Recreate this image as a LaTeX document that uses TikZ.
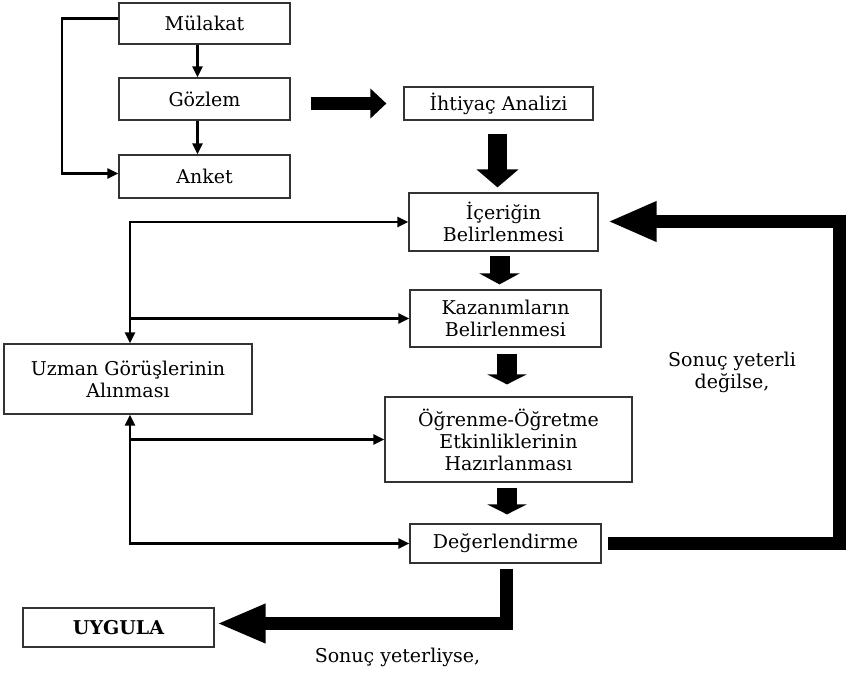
\documentclass[tikz,border=0pt]{standalone}
\usepackage{fontspec}
\setmainfont{DejaVu Serif}
\usetikzlibrary{arrows.meta,calc}
\begin{document}
\begin{tikzpicture}[x=1pt,y=-1pt,
  txt/.style={align=center,inner sep=0pt,font=\fontsize{19}{22}\selectfont},
  box/.style={txt,draw=black!80,line width=1.2pt},
  conn/.style={line width=2.2pt,-{Triangle[width=10pt,length=11pt]}},
  conn2/.style={line width=2.2pt,{Triangle[width=10pt,length=11pt]}-{Triangle[width=10pt,length=11pt]}},
  fat/.style={line join=miter,line cap=butt}
]
\useasboundingbox (0,0) rectangle (846,674);

\node[box,minimum width=171pt,minimum height=41pt] (mul) at (204.5,23.5) {Mülakat};
\node[box,minimum width=171pt,minimum height=42pt] (goz) at (204.5,99) {Gözlem};
\node[box,minimum width=171pt,minimum height=43pt] (ank) at (204.5,176.5) {Anket};
\node[box,minimum width=189pt,minimum height=33pt] (iht) at (498.5,103.5) {İhtiyaç Analizi};
\node[box,minimum width=189pt,minimum height=58pt] (ice) at (503.5,222) {İçeriğin\\Belirlenmesi};
\node[box,minimum width=191pt,minimum height=57pt] (kaz) at (505.5,318.5) {Kazanımların\\Belirlenmesi};
\node[box,minimum width=247pt,minimum height=85pt] (ogr) at (508.5,439.5) {Öğrenme-Öğretme\\Etkinliklerinin\\Hazırlanması};
\node[box,minimum width=191pt,minimum height=39pt] (deg) at (505.5,543.5) {Değerlendirme};
\node[box,minimum width=248pt,minimum height=70pt] (uzm) at (128,379) {Uzman Görüşlerinin\\Alınması};
\node[box,minimum width=191pt,minimum height=39pt,font=\fontsize{19}{22}\selectfont\bfseries] (uyg) at (118.5,627.5) {UYGULA};

\node[txt] (no) at (732,372) {Sonuç yeterli\\değilse,};
\node[txt] (yes) at (397.5,657) {Sonuç yeterliyse,};

% thin connectors
\draw[conn] ($(mul.south)+(-7,0)$) -- ($(goz.north)+(-7,0)$);
\draw[conn] ($(goz.south)+(-7,0)$) -- ($(ank.north)+(-7,0)$);
\coordinate (lp) at (62,100);
\draw[conn] ($(mul.west)+(0,-5)$) -| (lp) |- ($(ank.west)+(0,-3)$);

\coordinate (vx) at (130,0);
\draw[conn2] (vx |- uzm.north) -- (vx |- ice.west) -- (ice.west);
\draw[conn] (vx |- kaz.west) -- (kaz.west);
\draw[conn2] (vx |- uzm.south) -- (vx |- deg.west) -- (deg.west);
\draw[conn] (vx |- ogr.west) -- (ogr.west);

% thick arrows
\draw[fat,line width=13pt,-{Triangle[width=29pt,length=16pt]}] ($(goz.east |- iht.west)+(20,0)$) -- ($(iht.west)+(-17,0)$);
\draw[fat,line width=19pt,-{Triangle[width=41pt,length=18pt]}] ($(iht.south)+(-1,13)$) -- ($(ice.north)+(-6,-5)$);
\draw[fat,line width=20pt,-{Triangle[width=40pt,length=11pt]}] ($(ice.south)+(-4,4)$) -- ($(kaz.north)+(-6,-5)$);
\draw[fat,line width=20pt,-{Triangle[width=39pt,length=10pt]}] ($(kaz.south)+(1.5,6)$) -- ($(ogr.north)+(-1.5,-12)$);
\draw[fat,line width=20pt,-{Triangle[width=39pt,length=10pt]}] ($(ogr.south)+(-1.5,5)$) -- ($(deg.north)+(1.5,-9)$);

\coordinate (br) at (839.5,544);
\coordinate (tr) at (839.5,221.5);
\draw[fat,line width=13pt,-{Triangle[width=37pt,length=49pt]}] ($(deg.east)+(6,0)$) -- (deg.east -| br) -- (tr) -- ($(ice.east |- tr)+(9,0)$);

\coordinate (bc) at (506,623.5);
\draw[fat,line width=13pt,-{Triangle[width=36pt,length=49pt]}] ($(deg.south)+(0.5,5)$) -- (bc) -- ($(uyg.east |- bc)+(2,0)$);
\end{tikzpicture}
\end{document}
